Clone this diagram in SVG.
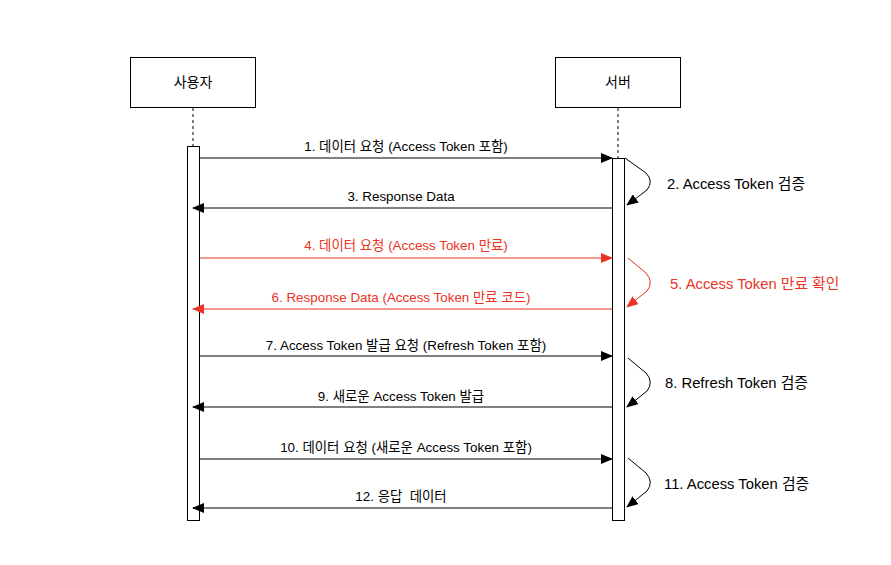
<svg xmlns="http://www.w3.org/2000/svg" width="891" height="565" viewBox="0 0 891 565">
<defs>
<style>
text{font-family:"Liberation Sans","Noto Sans CJK KR",Arial,sans-serif;fill:#000}
.nodebox{fill:#fff;stroke:#000;stroke-width:1}
.life{stroke:#000;stroke-width:1;stroke-dasharray:3 3}
.act{fill:#fff;stroke:#000;stroke-width:1}
.msg{stroke:#000;stroke-width:1;fill:none}
.red{stroke:#ea3323}
.ml{font-size:13.4px;text-anchor:middle}
.sl{font-size:14.8px}
.rt{fill:#ea3323}
</style>
<marker id="ab" markerWidth="12" markerHeight="10" refX="11" refY="5" orient="auto" markerUnits="userSpaceOnUse"><path d="M0,0 L12,5 L0,10 Z" fill="#000"/></marker>
<marker id="ar" markerWidth="12" markerHeight="10" refX="11" refY="5" orient="auto" markerUnits="userSpaceOnUse"><path d="M0,0 L12,5 L0,10 Z" fill="#ea3323"/></marker>
</defs>
<rect width="891" height="565" fill="#fff"/>
<g id="user">
<line class="life" x1="193" y1="108" x2="193" y2="146"/>
<rect class="nodebox" x="130.5" y="57.5" width="125" height="50"/>
<text x="193" y="87" font-size="14" text-anchor="middle">사용자</text>
<rect class="act" x="187.5" y="146.5" width="12" height="374"/>
</g>
<g id="server">
<line class="life" x1="618" y1="108" x2="618" y2="158"/>
<rect class="nodebox" x="555.5" y="57.5" width="125" height="50"/>
<text x="618" y="87" font-size="14" text-anchor="middle">서버</text>
<rect class="act" x="612.5" y="158.5" width="12" height="362"/>
</g>
<g id="connectors">
<line class="msg" x1="200" y1="158" x2="612" y2="158" marker-end="url(#ab)"/>
<path class="msg" d="M625,158 L646,173 Q654,181 647,190 L627,205" marker-end="url(#ab)"/>
<line class="msg" x1="612" y1="208" x2="193" y2="208" marker-end="url(#ab)"/>
<line class="msg red" x1="200" y1="258" x2="612" y2="258" marker-end="url(#ar)"/>
<path class="msg red" d="M628,258 L646,273 Q654,282 647,291 L627,307" marker-end="url(#ar)"/>
<line class="msg red" x1="612" y1="309" x2="193" y2="309" marker-end="url(#ar)"/>
<line class="msg" x1="200" y1="356" x2="612" y2="356" marker-end="url(#ab)"/>
<path class="msg" d="M628,358 L646,373 Q654,382 647,391 L627,407" marker-end="url(#ab)"/>
<line class="msg" x1="612" y1="407" x2="193" y2="407" marker-end="url(#ab)"/>
<line class="msg" x1="200" y1="459" x2="612" y2="459" marker-end="url(#ab)"/>
<path class="msg" d="M628,458 L646,473 Q654,482 647,491 L627,507" marker-end="url(#ab)"/>
<line class="msg" x1="612" y1="508" x2="193" y2="508" marker-end="url(#ab)"/>
</g>
<g id="labels">
<text class="ml" x="406" y="151">1. 데이터 요청 (Access Token 포함)</text>
<text class="sl" x="667" y="189">2. Access Token 검증</text>
<text class="ml" x="401" y="201">3. Response Data</text>
<text class="ml rt" x="406" y="250">4. 데이터 요청 (Access Token 만료)</text>
<text class="sl rt" x="670" y="289">5. Access Token 만료 확인</text>
<text class="ml rt" x="401" y="302">6. Response Data (Access Token 만료 코드)</text>
<text class="ml" x="406" y="350">7. Access Token 발급 요청 (Refresh Token 포함)</text>
<text class="sl" x="665" y="388">8. Refresh Token 검증</text>
<text class="ml" x="401" y="401">9. 새로운 Access Token 발급</text>
<text class="ml" x="406" y="452">10. 데이터 요청 (새로운 Access Token 포함)</text>
<text class="sl" x="664" y="489">11. Access Token 검증</text>
<text class="ml" x="401" y="501" xml:space="preserve">12. 응답  데이터</text>
</g>
</svg>
